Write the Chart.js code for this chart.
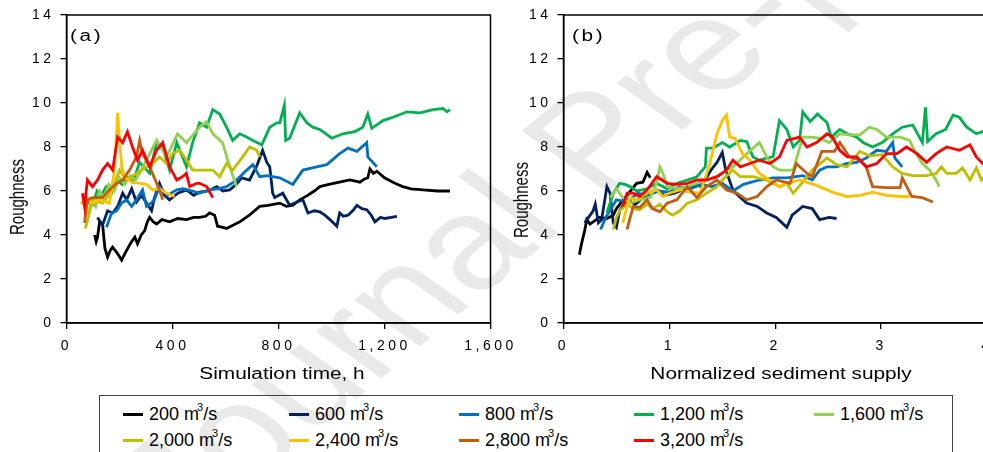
<!DOCTYPE html>
<html>
<head>
<meta charset="utf-8">
<script src="https://cdn.jsdelivr.net/npm/chart.js@4.4.1/dist/chart.umd.min.js"></script>
<style>
  html, body { margin: 0; padding: 0; background: #fff; }
  body { width: 983px; height: 452px; overflow: hidden; position: relative; font-family: "Liberation Sans", Arial, sans-serif; color: #000; }
  #wm { position: absolute; left: 590px; top: 140px; font-size: 130px; color: #e9e9e9; white-space: nowrap;
        transform: translate(-50%, -50%) scaleX(1.3) rotate(-47deg); }
  canvas { position: absolute; top: 0; }
  #ca { left: 0; }
  #cb { left: 495px; }
  .xtitle { position: absolute; top: 374px; font-size: 16px; white-space: nowrap; transform: translate(-50%, -50%) scaleX(1.3); }
  .ytitle { position: absolute; font-size: 15px; white-space: nowrap; transform: translate(-50%, -50%) rotate(-90deg) scaleY(1.3); }
  .panel { position: absolute; top: 27px; font-size: 16px; letter-spacing: 2px; transform-origin: 0 0; transform: scaleX(1.3); }
  #legend { position: absolute; left: 99px; top: 395px; width: 854px; height: 80px; box-sizing: border-box;
            border: 1px solid #404040; padding: 5px 0 0 23px; display: grid;
            grid-template-columns: 166px 170px 175px 180px auto; grid-auto-rows: 26px; font-size: 18px; }
  .item { display: flex; align-items: center; white-space: nowrap; }
  .swatch { width: 20px; height: 3px; margin-right: 6px; }
  sup { font-size: 11px; position: relative; top: -7px; margin-left: -2px; }
</style>
</head>
<body>
<div id="wm">Journal Pre-proof</div>
<canvas id="ca" width="527" height="390"></canvas>
<canvas id="cb" width="507" height="390"></canvas>
<div class="xtitle" style="left:282px">Simulation time, h</div>
<div class="xtitle" style="left:781px">Normalized sediment supply</div>
<div class="ytitle" style="left:17px; top:197px">Roughness</div>
<div class="ytitle" style="left:521px; top:200px">Roughness</div>
<div class="panel" style="left:70px">(a)</div>
<div class="panel" style="left:572px">(b)</div>
<div id="legend"></div>
<script>
// discharge classes and colours
const flowLabels = ['200', '600', '800', '1,200', '1,600', '2,000', '2,400', '2,800', '3,200'];
const lineColors = ['#000000', '#002060', '#0070C0', '#00B050', '#92D050', '#BFBF00', '#FFC000', '#C55A11', '#FF0000'];

// tick labels
const roughTicks = [0, 2, 4, 6, 8, 10, 12, 14];
const timeTicks = [0, 400, 800, 1200, 1600];
const supplyTicks = [0, 1, 2, 3, 4];

// (a) roughness vs simulation time [h, roughness]
const a200 = [[106,4.0],[112,3.7],[117,3.9],[125,4.6],[136,4.5],[145,3.4],[155,3.0],[165,3.3],[174,3.45],[190,3.2],[208,2.86],[218,3.1],[227,3.3],[236,3.5],[246,3.7],[258,3.9],[268,3.6],[282,4.0],[295,4.2],[305,4.6],[314,4.8],[327,4.6],[340,4.5],[360,4.7],[389,4.6],[420,4.75],[453,4.7],[480,4.8],[502,4.8],[525,4.85],[540,5.0],[559,4.9],[570,4.4],[590,4.35],[604,4.3],[630,4.45],[654,4.6],[690,4.9],[729,5.3],[760,5.35],[805,5.45],[830,5.3],[854,5.35],[880,5.6],[910,5.8],[935,6.0],[956,6.2],[990,6.3],[1030,6.4],[1069,6.5],[1090,6.45],[1107,6.4],[1125,6.55],[1137,6.6],[1145,7.0],[1158,6.8],[1171,6.9],[1200,6.6],[1232,6.4],[1250,6.3],[1269,6.2],[1300,6.1],[1345,6.05],[1400,6.0],[1447,6.0]];
const a600 = [[117,4.8],[136,4.45],[155,5.1],[174,5.0],[193,5.3],[212,5.9],[227,5.6],[246,6.1],[264,5.5],[283,5.8],[302,5.45],[321,5.1],[332,5.7],[351,6.35],[370,5.8],[389,5.6],[420,5.9],[453,6.05],[480,5.8],[502,5.95],[535,6.0],[567,6.2],[590,6.0],[616,6.05],[640,6.3],[661,6.6],[691,6.5],[720,7.2],[740,7.85],[756,7.3],[767,7.1],[778,5.9],[786,5.7],[800,5.8],[816,5.9],[842,5.35],[870,5.5],[892,5.6],[911,5.0],[935,5.1],[956,5.05],[975,4.9],[994,4.7],[1020,4.4],[1031,5.0],[1045,4.85],[1062,4.9],[1080,5.1],[1096,5.35],[1115,5.2],[1133,5.15],[1150,4.9],[1164,4.6],[1185,4.8],[1201,4.75],[1225,4.8],[1247,4.85]];
const a800 = [[151,4.35],[170,5.0],[189,5.1],[208,5.45],[227,5.6],[246,5.3],[264,5.6],[287,6.05],[302,5.3],[314,5.4],[332,5.6],[351,6.2],[380,5.8],[416,6.05],[440,6.1],[476,6.0],[500,5.9],[540,6.05],[570,6.1],[604,6.2],[642,6.5],[680,6.95],[703,7.2],[729,6.65],[756,6.7],[805,6.6],[854,6.3],[892,6.95],[944,7.1],[982,7.2],[1031,7.7],[1062,7.95],[1096,7.8],[1133,8.2],[1137,7.55],[1171,7.1]];
const a1200 = [[70,5.2],[85,5.6],[100,5.4],[115,6.0],[130,5.8],[150,6.2],[170,5.9],[190,6.5],[210,6.3],[230,6.6],[250,6.4],[276,7.3],[314,6.8],[340,8.2],[363,8.0],[389,6.95],[416,8.2],[453,7.1],[476,8.2],[502,9.1],[529,8.9],[552,9.7],[578,9.5],[604,8.9],[627,8.3],[654,8.6],[680,8.45],[703,8.3],[737,8.1],[767,8.9],[793,9.1],[805,9.1],[822,9.9],[827,8.3],[842,8.4],[880,9.55],[907,9.1],[929,8.9],[956,8.8],[1001,8.4],[1043,8.6],[1088,8.7],[1118,8.9],[1137,9.5],[1152,8.85],[1194,9.2],[1232,9.35],[1285,9.6],[1334,9.55],[1383,9.7],[1421,9.75],[1436,9.6],[1447,9.7]];
const a1600 = [[80,4.9],[95,5.6],[110,5.3],[125,6.0],[140,5.7],[160,6.3],[180,6.0],[200,6.6],[220,6.3],[240,6.7],[260,6.5],[276,6.8],[340,8.3],[378,7.55],[419,8.6],[453,8.2],[502,8.9],[529,9.15],[552,8.6],[589,8.2],[616,7.1],[642,6.2]];
const a2000 = [[70,4.3],[76,4.5],[98,5.6],[136,5.45],[174,6.05],[200,6.95],[227,6.5],[264,6.8],[302,7.1],[325,7.25],[351,7.55],[378,7.25],[400,7.7],[427,7.85],[453,7.4],[476,6.95],[514,6.95],[552,6.95],[578,6.65],[604,7.25],[627,6.95],[665,7.55],[691,8.0],[718,7.85],[729,7.55]];
const a2400 = [[55,5.4],[76,5.7],[98,5.45],[125,5.6],[162,5.45],[181,6.95],[193,9.55],[208,7.1],[219,6.65],[246,6.4],[276,6.35],[302,6.3],[325,6.05],[351,6.1],[378,5.9],[408,5.75]];
const a2800 = [[68,4.55],[79,5.6],[98,5.7],[136,5.7],[162,6.05],[189,6.35],[212,6.5],[238,6.95],[264,7.55],[276,8.3],[287,7.7],[314,7.1],[340,6.35],[351,6.05],[363,5.6]];
const a3200 = [[60,5.9],[68,5.3],[79,6.5],[98,6.2],[117,6.5],[136,6.95],[155,7.25],[174,6.95],[193,8.45],[212,8.2],[230,8.7],[249,8.0],[268,7.4],[287,7.85],[314,7.1],[340,7.85],[363,8.2],[389,7.1],[416,6.5],[438,6.65],[452,6.8],[465,6.2],[491,6.35],[502,6.35],[529,6.2],[552,5.7]];

// (b) roughness vs normalized sediment supply [supply, roughness]
const b200 = [[0.15,3.1],[0.17,3.6],[0.2,4.2],[0.22,4.7],[0.25,4.5],[0.28,4.6],[0.34,4.8],[0.41,4.75],[0.47,4.9],[0.5,5.2],[0.6,5.8],[0.69,6.35],[0.75,6.4],[0.79,6.85],[0.82,6.6]];
const b600 = [[0.2,4.55],[0.28,5.1],[0.3,5.4],[0.33,4.55],[0.36,4.7],[0.41,6.2],[0.44,5.9],[0.47,4.55],[0.5,4.35],[0.53,5.1],[0.6,5.6],[0.68,5.4],[0.8,5.9],[0.88,6.05],[0.95,5.8],[1.05,5.9],[1.15,6.1],[1.25,6.3],[1.3,6.2],[1.4,7.0],[1.45,7.3],[1.5,7.75],[1.53,7.0],[1.6,6.05],[1.67,5.7],[1.73,5.45],[1.83,5.3],[1.92,5.0],[2.01,4.8],[2.11,4.35],[2.16,4.9],[2.26,5.3],[2.35,5.2],[2.42,4.7],[2.51,4.8],[2.58,4.75]];
const b800 = [[0.35,4.25],[0.4,4.8],[0.45,5.2],[0.5,5.6],[0.6,5.5],[0.7,5.9],[0.8,5.8],[0.9,6.0],[1.0,5.95],[1.1,6.2],[1.2,6.1],[1.3,6.3],[1.4,6.2],[1.5,6.35],[1.6,6.0],[1.7,6.3],[1.85,6.5],[1.98,6.6],[2.11,6.6],[2.26,6.7],[2.35,6.5],[2.42,6.95],[2.49,7.1],[2.58,7.1],[2.68,7.25],[2.77,7.3],[2.86,7.5],[2.96,7.85],[3.05,7.8],[3.11,8.2],[3.13,7.5],[3.2,7.1]];
const b1200 = [[0.41,5.0],[0.47,5.9],[0.53,6.35],[0.58,6.3],[0.63,6.2],[0.69,6.0],[0.79,6.1],[0.88,6.35],[0.98,6.1],[1.07,6.35],[1.17,6.5],[1.26,6.65],[1.34,7.1],[1.35,7.95],[1.41,7.95],[1.5,8.2],[1.57,8.0],[1.67,8.3],[1.73,8.25],[1.79,7.55],[1.85,7.4],[1.92,7.5],[1.98,7.55],[2.04,9.2],[2.11,8.8],[2.17,8.0],[2.23,8.3],[2.26,9.6],[2.33,9.15],[2.4,9.5],[2.49,9.1],[2.53,8.45],[2.61,8.8],[2.68,8.6],[2.77,8.45],[2.83,8.2],[2.92,8.0],[3.01,8.2],[3.11,8.6],[3.2,8.9],[3.3,9.0],[3.39,8.2],[3.42,9.8],[3.44,8.25],[3.52,8.6],[3.61,8.8],[3.68,9.45],[3.74,9.35],[3.81,8.9],[3.9,8.6],[3.96,8.7],[4.0,8.6]];
const b1600 = [[0.44,5.7],[0.5,6.1],[0.56,5.7],[0.63,5.45],[0.72,5.6],[0.82,5.7],[0.88,6.35],[0.91,7.1],[0.94,6.8],[0.98,6.2],[1.07,6.1],[1.17,6.2],[1.26,6.35],[1.35,6.5],[1.45,6.65],[1.6,7.1],[1.71,7.6],[1.85,8.2],[1.92,7.55],[1.98,7.1],[2.04,6.95],[2.17,6.95],[2.26,8.45],[2.33,8.45],[2.42,8.4],[2.51,8.2],[2.61,8.6],[2.7,8.55],[2.8,8.55],[2.89,8.9],[2.96,8.8],[3.05,8.45],[3.18,8.45],[3.27,8.3],[3.33,7.7],[3.39,7.25],[3.46,6.95],[3.52,6.5],[3.55,6.2]];
const b2000 = [[0.47,4.25],[0.5,4.8],[0.53,5.1],[0.6,5.4],[0.66,5.2],[0.72,5.15],[0.79,5.4],[0.84,5.2],[0.91,5.4],[0.98,5.05],[1.03,4.9],[1.1,5.1],[1.17,5.45],[1.26,5.6],[1.35,5.9],[1.45,6.2],[1.5,6.5],[1.6,6.95],[1.67,6.65],[1.79,6.65],[1.92,6.5],[2.04,6.2],[2.11,6.35],[2.17,5.9],[2.26,6.4],[2.35,6.95],[2.49,7.5],[2.58,7.2],[2.68,7.1],[2.8,7.8],[2.89,7.6],[3.01,7.65],[3.11,7.1],[3.2,6.8],[3.3,6.7],[3.43,6.7],[3.52,6.8],[3.57,7.1],[3.62,6.8],[3.71,6.8],[3.77,7.05],[3.84,6.5],[3.9,7.05],[3.95,6.5],[4.0,6.8]];
const b2400 = [[0.56,4.55],[0.6,5.3],[0.63,5.7],[0.69,5.6],[0.79,5.9],[0.88,6.05],[0.94,5.75],[1.0,5.9],[1.1,6.05],[1.19,5.95],[1.29,5.9],[1.38,7.2],[1.45,8.6],[1.5,9.2],[1.54,9.45],[1.57,8.45],[1.62,8.4],[1.69,7.7],[1.76,7.4],[1.85,6.8],[1.95,6.5],[2.04,6.2],[2.11,6.35],[2.23,6.5],[2.33,6.35],[2.42,6.2],[2.54,5.95],[2.68,5.75],[2.8,5.8],[2.92,5.95],[3.05,5.8],[3.18,5.75],[3.27,5.75]];
const b2800 = [[0.6,4.25],[0.63,4.8],[0.66,5.3],[0.72,5.25],[0.79,5.6],[0.84,5.2],[0.91,5.05],[0.98,5.45],[1.07,5.6],[1.17,6.2],[1.26,5.7],[1.35,6.2],[1.45,6.5],[1.54,6.05],[1.64,5.9],[1.73,5.6],[1.83,5.75],[1.92,6.2],[2.01,6.5],[2.14,6.35],[2.2,7.25],[2.3,6.8],[2.35,6.65],[2.44,7.8],[2.56,7.8],[2.61,8.2],[2.64,8.0],[2.7,7.55],[2.8,7.4],[2.86,7.1],[2.92,6.2],[3.05,6.15],[3.18,6.15],[3.2,6.6],[3.29,5.75],[3.39,5.7],[3.49,5.5]];
const b3200 = [[0.56,5.3],[0.6,5.9],[0.66,5.9],[0.72,5.75],[0.79,6.05],[0.88,6.65],[0.98,6.35],[1.07,6.3],[1.17,6.35],[1.26,6.5],[1.35,6.5],[1.45,6.65],[1.54,6.95],[1.6,7.4],[1.67,7.1],[1.76,7.25],[1.85,7.4],[1.95,7.25],[2.04,7.55],[2.11,8.3],[2.23,8.45],[2.3,8.0],[2.39,8.2],[2.49,8.6],[2.54,8.45],[2.61,7.85],[2.68,7.55],[2.77,7.55],[2.86,7.1],[2.96,7.25],[3.05,7.7],[3.15,7.7],[3.24,8.0],[3.34,7.7],[3.43,7.3],[3.52,7.7],[3.62,8.0],[3.74,7.85],[3.84,8.1],[3.9,7.55],[3.96,7.25],[4.0,7.1]];

const seriesA = [a200, a600, a800, a1200, a1600, a2000, a2400, a2800, a3200];
const seriesB = [b200, b600, b800, b1200, b1600, b2000, b2400, b2800, b3200];

Chart.defaults.font.family = '"Liberation Sans", Arial, sans-serif';
Chart.defaults.color = '#000';

// wide Excel-like digit spacing on the canvas tick labels
const spacing = {
  id: 'spacing',
  beforeLayout(chart) { chart.ctx.letterSpacing = '3.5px'; },
  beforeDraw(chart) { chart.ctx.letterSpacing = '3.5px'; }
};
// closed plot frame
const frame = {
  id: 'frame',
  beforeDatasetsDraw(chart) {
    const a = chart.chartArea, ctx = chart.ctx;
    ctx.save();
    ctx.strokeStyle = '#000';
    ctx.lineWidth = 1.5;
    ctx.strokeRect(a.left, a.top, a.right - a.left, a.bottom - a.top);
    ctx.restore();
  }
};

function axisStyle() {
  return {
    grid: { drawOnChartArea: false, drawTicks: true, tickLength: 6, color: '#000', lineWidth: 1.3 },
    border: { color: '#000', width: 1.5 }
  };
}

function makeChart(id, series, xTicks, yWidth, padRight) {
  return new Chart(document.getElementById(id), {
    type: 'line',
    data: {
      datasets: series.map((pts, i) => ({
        label: flowLabels[i] + ' m³/s',
        data: pts.map(p => ({ x: p[0], y: p[1] })),
        borderColor: lineColors[i],
        borderWidth: 2.8,
        pointRadius: 0,
        fill: false,
        tension: 0,
        order: series.length - i
      }))
    },
    options: {
      responsive: false,
      animation: false,
      events: [],
      layout: { padding: { top: 15, right: padRight, bottom: 0, left: 0 } },
      plugins: { legend: { display: false }, tooltip: { enabled: false } },
      scales: {
        x: {
          type: 'linear',
          min: xTicks[0],
          max: xTicks[xTicks.length - 1],
          afterBuildTicks: s => { s.ticks = xTicks.map(v => ({ value: v })); },
          afterFit: s => { s.height = 67; },
          ticks: { font: { size: 14 }, color: '#000', padding: 9, maxRotation: 0, autoSkip: false,
                   callback: v => v.toLocaleString('en-US') },
          ...axisStyle()
        },
        y: {
          min: 0,
          max: 14,
          afterBuildTicks: s => { s.ticks = roughTicks.map(v => ({ value: v })); },
          afterFit: s => { s.width = yWidth; },
          ticks: { font: { size: 14 }, color: '#000', padding: 6 },
          ...axisStyle()
        }
      }
    },
    plugins: [spacing, frame]
  });
}

makeChart('ca', seriesA, timeTicks, 66.5, 36.5);
makeChart('cb', seriesB, supplyTicks, 68.5, 15.1);

// legend
const legend = document.getElementById('legend');
flowLabels.forEach((lab, i) => {
  const item = document.createElement('div');
  item.className = 'item';
  item.innerHTML = '<span class="swatch" style="background:' + lineColors[i] + '"></span>' + lab + ' m<sup>3</sup>/s';
  legend.appendChild(item);
});
</script>
</body>
</html>
